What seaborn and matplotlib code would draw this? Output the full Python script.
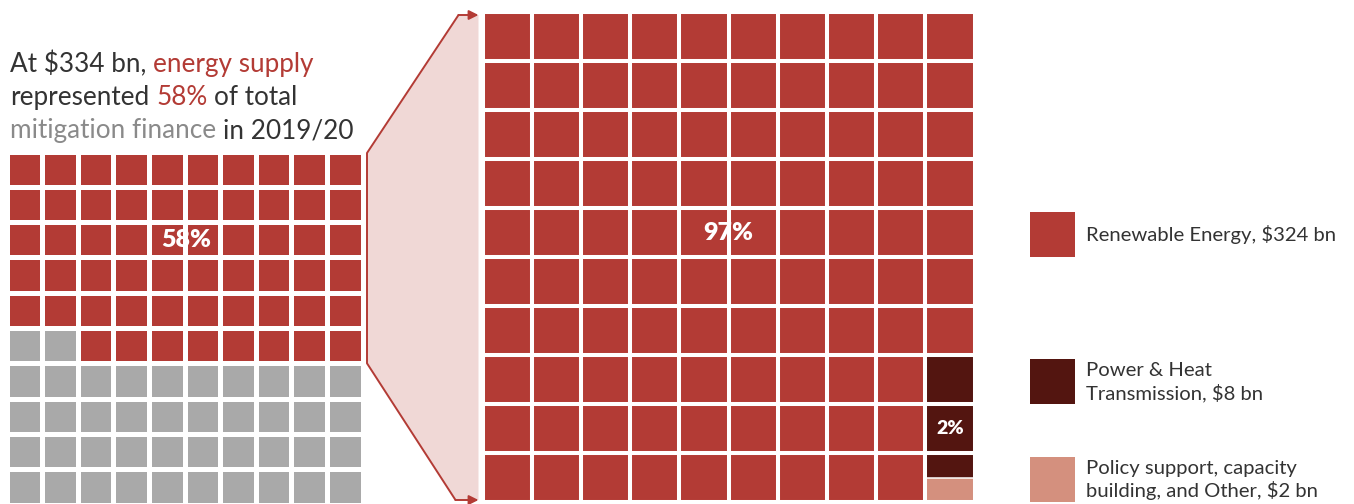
import numpy as np
import matplotlib
matplotlib.use('Agg')
import matplotlib.pyplot as plt
from matplotlib.colors import ListedColormap
from matplotlib.patches import Rectangle, Polygon
import seaborn as sns

# data
energy_share_pct = 58          # energy supply share of total mitigation finance
energy_total_bn = 334
categories = ['Renewable Energy, $324 bn',
              'Power & Heat\nTransmission, $8 bn',
              'Policy support, capacity\nbuilding, and Other, $2 bn']
amounts_bn = [324, 8, 2]

RED = '#b33b35'
GRAY = '#a9a9a9'
DARK = '#531510'
PINK = '#d4907e'
FILL = '#f0d8d6'
INK = '#333333'
MUTED = '#8a8a8a'

sns.set_theme(style='white')
plt.rcParams['font.family'] = ['Lato', 'DejaVu Sans']

W, H = 1354, 504
fig = plt.figure(figsize=(W / 100, H / 100), dpi=100)


def px_axes(x, y, w, h, z=1):
    return fig.add_axes([x / W, 1 - (y + h) / H, w / W, h / H], zorder=z)


bg = px_axes(0, 0, W, H, z=0)
bg.set_xlim(0, W)
bg.set_ylim(H, 0)
bg.axis('off')

# left waffle: 10 x 10, grey (rest) fills from bottom-left
LX, LY, LW, LH = 6.5, 151.5, 356, 353
left = np.ones(100, dtype=int)
left[:100 - energy_share_pct] = 0
left_grid = left.reshape(10, 10)[::-1]
axL = px_axes(LX, LY, LW, LH)
sns.heatmap(left_grid, cmap=ListedColormap([GRAY, RED]), vmin=-0.5, vmax=1.5,
            cbar=False, linewidths=2.2, linecolor='white',
            xticklabels=False, yticklabels=False, ax=axL)
axL.axis('off')
axL.text(5.05, 2.5, f'{energy_share_pct}%', color='white', fontsize=18,
         fontweight='heavy', ha='center', va='center')

# right waffle: 10 x 10 in half cells, filled column by column
RX, RY, RW, RH = 482.5, 12, 492, 490
halves = np.round(np.array(amounts_bn) / sum(amounts_bn) * 200).astype(int)
codes = np.repeat(np.arange(len(amounts_bn)), halves)
right_grid = codes.reshape(10, 20).T
axR = px_axes(RX, RY, RW, RH)
sns.heatmap(right_grid, cmap=ListedColormap([RED, DARK, PINK]), vmin=-0.5, vmax=2.5,
            cbar=False, linewidths=0, xticklabels=False, yticklabels=False, ax=axR)
axR.axis('off')
axR.vlines(np.arange(11), 0, 20, color='white', lw=2.9)
axR.hlines(np.arange(0, 21, 2), 0, 10, color='white', lw=2.9)
for c in range(10):
    for r in range(0, 20, 2):
        if right_grid[r, c] != right_grid[r + 1, c]:
            axR.hlines(r + 1, c, c + 1, color='white', lw=1.1)
axR.text(5, 9, '97%', color='white', fontsize=18, fontweight='heavy',
         ha='center', va='center')
axR.text(9.5, 17, '2%', color='white', fontsize=14, fontweight='heavy',
         ha='center', va='center')

# connector between the two waffles
cx = LX + LW + 4.5
top_l, bot_l = LY + 1.5, LY + LH * 6 / 10
top_r, bot_r = RY + 3, RY + RH - 2
knee_t, knee_b, tip = RX - 24, RX - 27, RX - 4
bg.add_patch(Polygon([(cx, top_l), (knee_t, top_r), (tip, top_r), (tip, bot_r),
                      (knee_b, bot_r), (cx, bot_l)], closed=True, color=FILL, lw=0))
bg.plot([knee_t, cx, cx, knee_b], [top_r, top_l, bot_l, bot_r], color=RED, lw=1.4)
for kx, ky in [(knee_t, top_r), (knee_b, bot_r)]:
    bg.annotate('', xy=(tip, ky), xytext=(kx, ky),
                arrowprops=dict(arrowstyle='-|>', color=RED, lw=1.4,
                                mutation_scale=14, shrinkA=0, shrinkB=0))

# title with coloured words
renderer = fig.canvas.get_renderer()


def text_w(s, size):
    t = bg.text(0, 0, s, fontsize=size)
    w = t.get_window_extent(renderer).width
    t.remove()
    return w


def rich_line(x, y, parts, size=18.8):
    gap = text_w('x x', size) - text_w('xx', size)
    for s, c in parts:
        t = bg.text(x, y, s, color=c, fontsize=size, va='baseline', ha='left')
        x += t.get_window_extent(renderer).width + gap


rich_line(10, 72, [('At $334 bn,', INK), ('energy supply', RED)])
rich_line(10, 105, [('represented', INK), (f'{energy_share_pct}%', RED), ('of total', INK)])
rich_line(10, 138, [('mitigation finance', MUTED), ('in 2019/20', INK)])

# legend
legend_colors = [RED, DARK, PINK]
legend_y = [212, 359, 457]
for lab, col, y in zip(categories, legend_colors, legend_y):
    bg.add_patch(Rectangle((1030, y), 45, 45, color=col, lw=0))
    bg.text(1086, y + 23, lab, color=INK, fontsize=14.6, va='center', ha='left',
            linespacing=1.3)

fig.savefig('out.png', dpi=100)
